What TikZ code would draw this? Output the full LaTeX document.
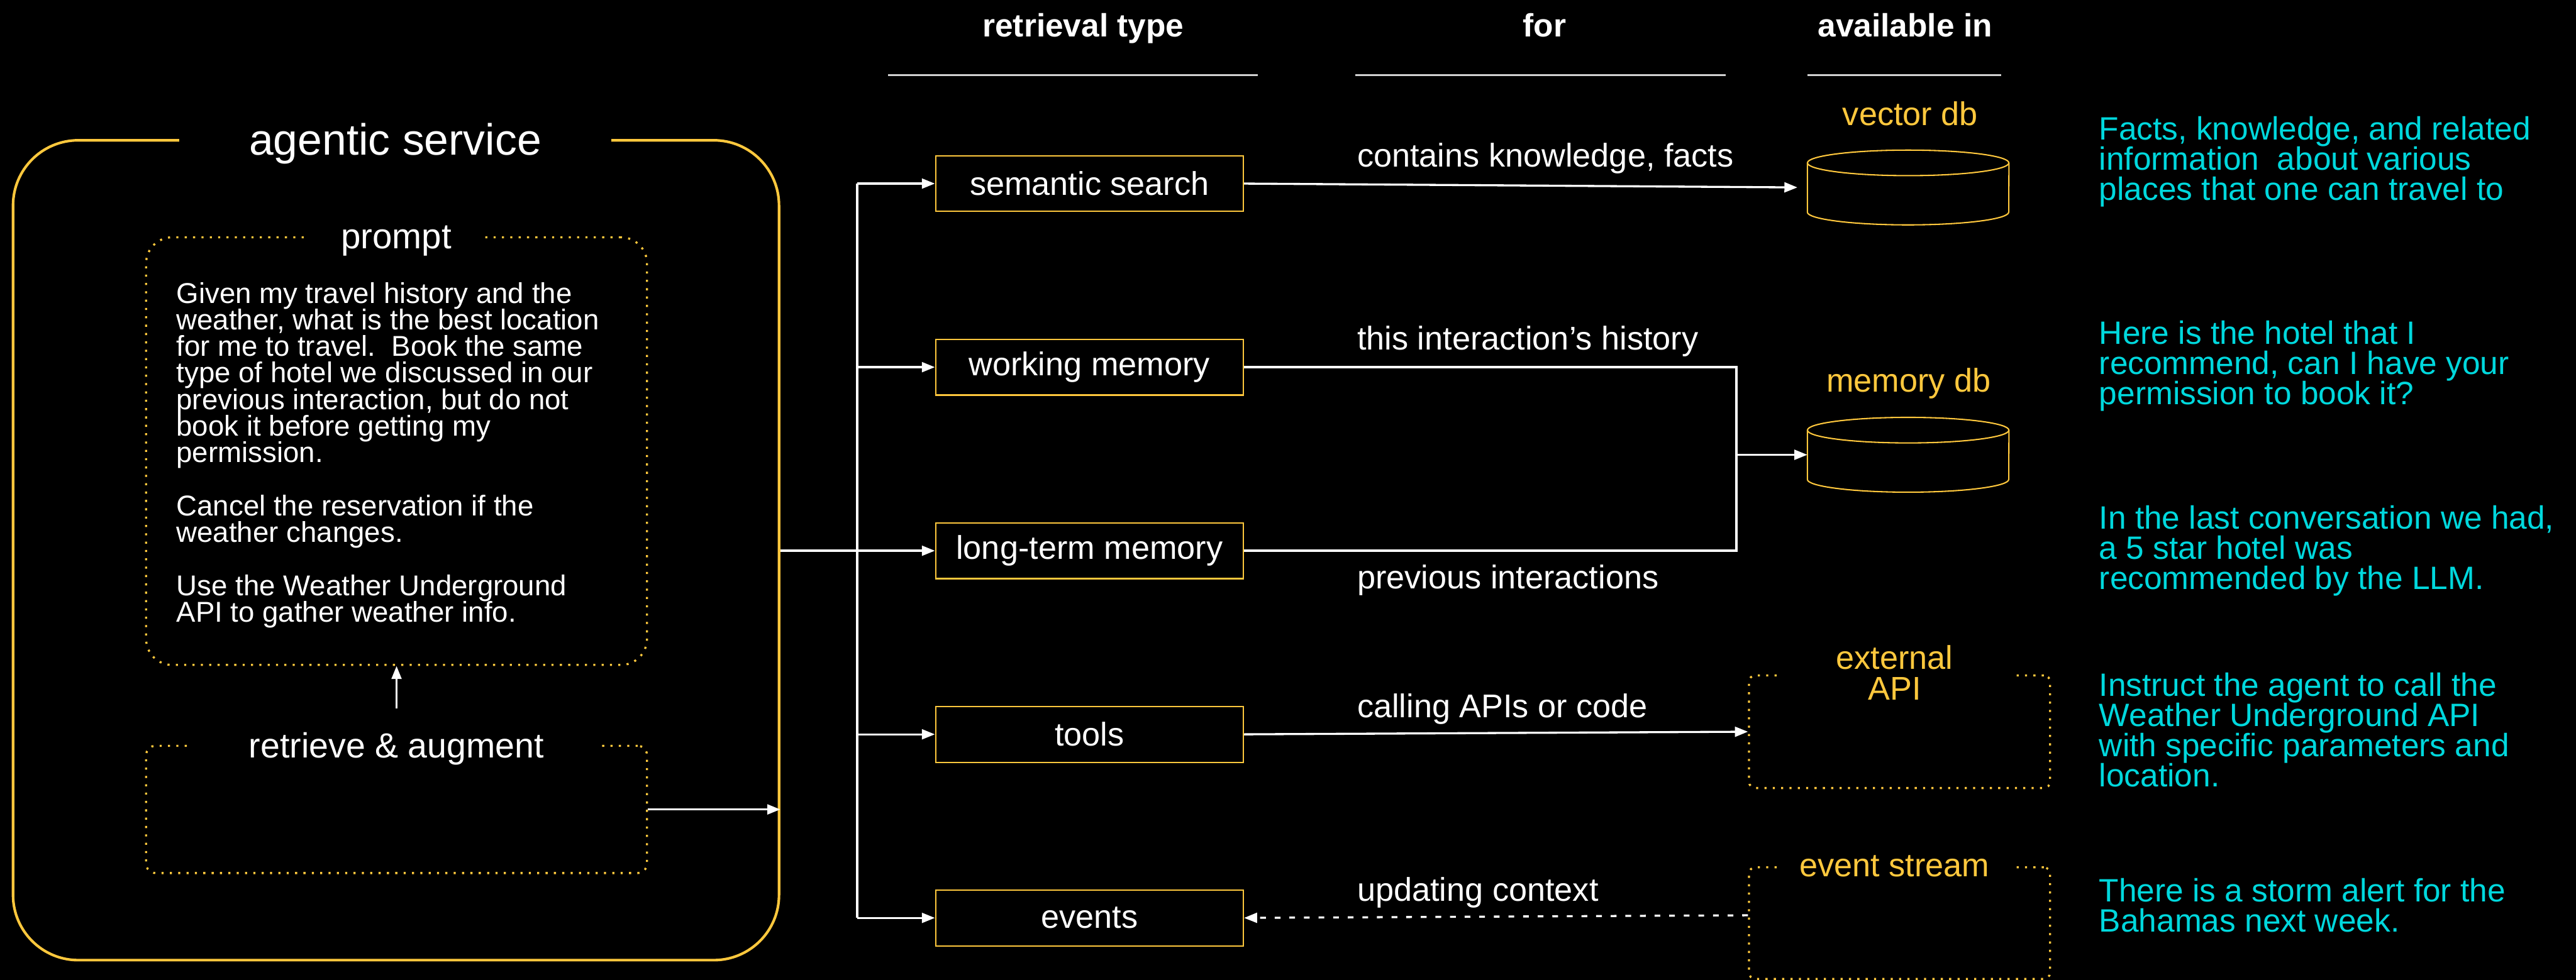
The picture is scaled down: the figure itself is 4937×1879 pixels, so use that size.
\documentclass[tikz,border=0pt]{standalone}
\usepackage{fontspec}
\setmainfont{Liberation Sans}
\usetikzlibrary{arrows.meta}

\definecolor{gold}{HTML}{FFC83D}
\definecolor{aqua}{HTML}{00D8DD}
\definecolor{rulegray}{HTML}{D2D2D2}

% font size / leading in pt
\newcommand\fsz[2]{\fontsize{#1pt}{#2pt}\selectfont}
% left-aligned block of \hbox lines with a fixed baseline distance
\newcommand\linestack[2]{\vtop{\baselineskip=#1pt\lineskiplimit=-\maxdimen\lineskip=0pt #2}}

\tikzset{
  wire/.style={white, line width=4pt},
  arrow/.style={wire, -{Triangle[length=25pt,width=19pt]}},
  dasharrow/.style={arrow, dash pattern=on 11pt off 17pt},
  kindbox/.style={draw=gold, line width=2.5pt, minimum width=590pt, minimum height=107pt,
    inner sep=0pt, text=white, font=\fsz{63}{63}},
  dotbox/.style={draw=gold, line width=4pt, dash pattern=on 4pt off 12pt, inner sep=0pt},
  gaptitle/.style={fill=black, inner xsep=0pt, inner ysep=4pt, anchor=base},
  lbl/.style={text=white, font=\fsz{63}{63}, inner sep=0pt, anchor=base west},
  ylbl/.style={text=gold, font=\fsz{63}{59}, inner sep=0pt, anchor=base},
  note/.style={text=aqua, font=\fsz{62}{58}, inner sep=0pt, anchor=base west},
  hdr/.style={text=white, font=\bfseries\fsz{62}{62}, inner sep=0pt, anchor=base},
  rule/.style={rulegray, line width=3pt},
  cyl/.style={draw=gold, line width=2.5pt},
}

\begin{document}
\begin{tikzpicture}[x=1pt, y=-1pt]
\fill[black] (0,0) rectangle (4937,1879);
\useasboundingbox (0,0) rectangle (4937,1879);

% ---------- agentic service ----------
\node[draw=gold, line width=5pt, rounded corners=125pt, minimum width=1468pt,
      minimum height=1572pt, inner sep=0pt] (agent) at (759,1055) {};
\node[gaptitle, minimum width=827pt, text=white, font=\fsz{84}{84}] (agentTitle)
      at (757.5,297) {agentic service};

\node[dotbox, rounded corners=50pt, minimum width=960pt, minimum height=820pt] (prompt) at (760,865) {};
\node[gaptitle, minimum width=333pt, text=white, font=\fsz{68}{68}] (promptTitle)
      at (759.5,477) {prompt};
\node[text=white, font=\fsz{55}{51}, inner sep=0pt, anchor=base west] (promptText) at (338,581)
  {\linestack{51}{%
    \hbox{Given my travel history and the}%
    \hbox{weather, what is the best location}%
    \hbox{for me to travel.\ \ Book the same}%
    \hbox{type of hotel we discussed in our}%
    \hbox{previous interaction, but do not}%
    \hbox{book it before getting my}%
    \hbox{permission.}%
    \hbox{}%
    \hbox{Cancel the reservation if the}%
    \hbox{weather changes.}%
    \hbox{}%
    \hbox{Use the Weather Underground}%
    \hbox{API to gather weather info.}}};

\node[dotbox, rounded corners=18pt, minimum width=960pt, minimum height=244pt] (retrieve) at (760,1552) {};
\node[gaptitle, minimum width=783pt, text=white, font=\fsz{67}{67}] (retrieveTitle)
      at (760,1453) {retrieve \& augment};

\coordinate (raTail) at (760,1358);
\draw[arrow] (raTail) -- (prompt.south);
\draw[arrow] (retrieve.east) -- (retrieve.east -| agent.east);

% ---------- column headers ----------
\node[hdr] (hType) at (2076,70) {retrieval type};
\node[hdr] (hFor) at (2960,70) {for};
\node[hdr] (hAvail) at (3651,70) {available in};
\draw[rule] (1702,144) -- (2411,144);
\draw[rule] (2598,144) -- (3307,144);
\draw[rule] (3464,144) -- (3835,144);

% ---------- retrieval types ----------
\node[kindbox] (sem)   at (2088,352)  {semantic search};
\node[kindbox] (wm)    at (2088,704)  {working memory};
\node[kindbox] (ltm)   at (2088,1056) {long-term memory};
\node[kindbox] (tools) at (2088,1408) {tools};
\node[kindbox] (ev)    at (2088,1760) {events};

\coordinate (trunk) at (1643,0);
\draw[wire] (agent.east |- ltm.west) -- (trunk |- ltm.west);
\draw[wire] (trunk |- sem.west) -- (trunk |- ev.west);
\foreach \b in {sem,wm,ltm,tools,ev}
  \draw[arrow] (trunk |- \b.west) -- (\b.west);

% ---------- stores ----------
\node[ylbl] (tVdb) at (3661,241) {vector db};
\node[minimum width=386pt, minimum height=143pt, inner sep=0pt] (vdb) at (3657,359.5) {};
\draw[cyl] ([yshift=-24.5pt]vdb.north) ellipse [x radius=193pt, y radius=24.5pt];
\draw[cyl] ([yshift=-24.5pt]vdb.north west) -- ([yshift=24.5pt]vdb.south west)
  arc[start angle=180, end angle=360, x radius=193pt, y radius=24.5pt]
  -- ([yshift=-24.5pt]vdb.north east);

\node[ylbl] (tMdb) at (3658,752) {memory db};
\node[minimum width=386pt, minimum height=143pt, inner sep=0pt] (mdb) at (3657,872) {};
\draw[cyl] ([yshift=-24.5pt]mdb.north) ellipse [x radius=193pt, y radius=24.5pt];
\draw[cyl] ([yshift=-24.5pt]mdb.north west) -- ([yshift=24.5pt]mdb.south west)
  arc[start angle=180, end angle=360, x radius=193pt, y radius=24.5pt]
  -- ([yshift=-24.5pt]mdb.north east);

\node[dotbox, rounded corners=12pt, minimum width=577pt, minimum height=216pt] (extAPI) at (3640.5,1403) {};
\node[gaptitle, minimum width=446pt, text=gold, font=\fsz{63}{59}] (extTitle) at (3631,1283)
  {\vtop{\baselineskip=59pt\lineskiplimit=-\maxdimen\lineskip=0pt
     \halign{\hfil#\hfil\cr external\cr API\cr}}};

\node[dotbox, rounded corners=12pt, minimum width=577pt, minimum height=214pt] (evStream) at (3640.5,1770) {};
\node[gaptitle, minimum width=446pt, text=gold, font=\fsz{63}{63}] (evTitle) at (3631,1681) {event stream};

% ---------- connectors ----------
\draw[arrow, shorten >=19pt] (sem.east) -- (vdb.west);
\coordinate (merge) at (3328,873);
\draw[wire] (wm.east) -- (wm.east -| merge) -- (ltm.east -| merge) -- (ltm.east);
\draw[arrow] (merge |- mdb.west) -- (mdb.west);
\draw[arrow] (tools.east) -- (extAPI.west);
\draw[dasharrow] ([yshift=15pt]evStream.west) -- (ev.east);

\node[lbl] (lSem)   at (2601,320)  {contains knowledge, facts};
\node[lbl] (lWm)    at (2601,671)  {this interaction’s history};
\node[lbl] (lLtm)   at (2601,1129) {previous interactions};
\node[lbl] (lTools) at (2601,1376) {calling APIs or code};
\node[lbl] (lEv)    at (2601,1728) {updating context};

% ---------- example contents ----------
\node[note] (nVdb) at (4023,268) {\linestack{58}{%
  \hbox{Facts, knowledge, and related}%
  \hbox{information\ \ about various}%
  \hbox{places that one can travel to}}};
\node[note] (nWm) at (4023,660) {\linestack{58}{%
  \hbox{Here is the hotel that I}%
  \hbox{recommend, can I have your}%
  \hbox{permission to book it?}}};
\node[note] (nLtm) at (4023,1014) {\linestack{58}{%
  \hbox{In the last conversation we had,}%
  \hbox{a 5 star hotel was}%
  \hbox{recommended by the LLM.}}};
\node[note] (nApi) at (4023,1335) {\linestack{58}{%
  \hbox{Instruct the agent to call the}%
  \hbox{Weather Underground API}%
  \hbox{with specific parameters and}%
  \hbox{location.}}};
\node[note] (nEv) at (4023,1729) {\linestack{58}{%
  \hbox{There is a storm alert for the}%
  \hbox{Bahamas next week.}}};
\end{tikzpicture}
\end{document}
